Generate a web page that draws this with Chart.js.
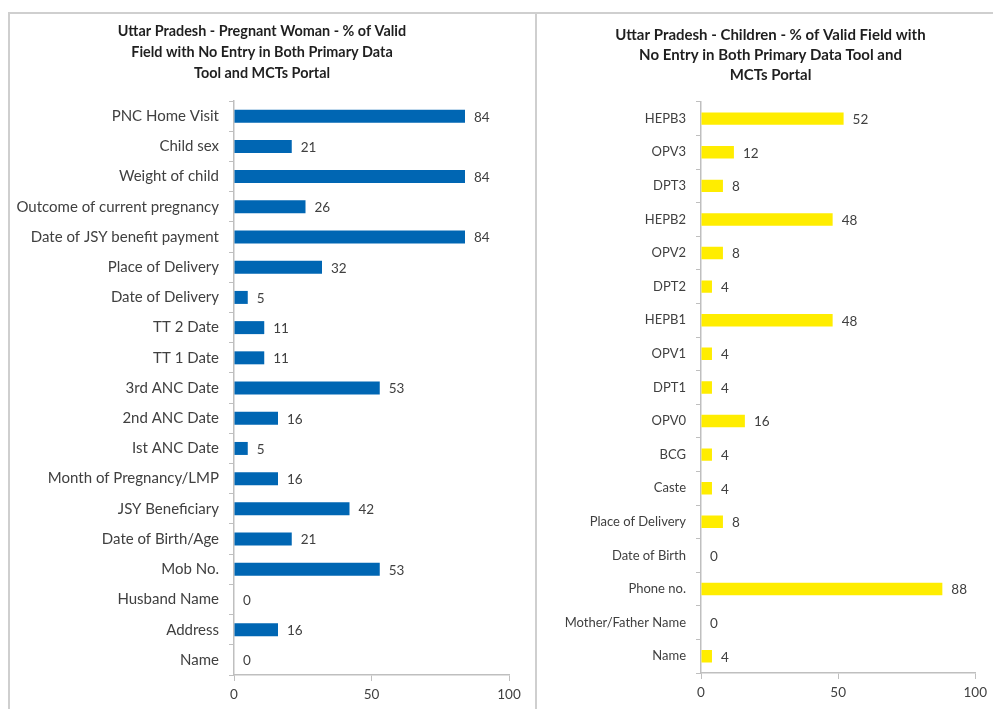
<!DOCTYPE html>
<html>
<head>
<meta charset="utf-8">
<script src="https://cdn.jsdelivr.net/npm/chart.js@4.4.1/dist/chart.umd.min.js"></script>
<style>
  html, body { margin: 0; padding: 0; background: #fff; }
  body { width: 993px; height: 709px; position: relative; overflow: hidden; }
  .frame {
    position: absolute; left: 8px; top: 12px; width: 1000px; height: 720px;
    border-left: 2px solid #cfcfcf; border-top: 2px solid #cfcfcf;
  }
  .divider {
    position: absolute; left: 535px; top: 12px; width: 2px; height: 720px;
    background: #cfcfcf;
  }
  .panel { position: absolute; top: 14px; }
  #womanPanel { left: 10px; width: 524px; height: 695px; }
  #childPanel { left: 538px; width: 455px; height: 695px; }
</style>
</head>
<body>
<div class="frame"></div>
<div class="divider"></div>
<div class="panel" id="womanPanel"><canvas id="womanChart"></canvas></div>
<div class="panel" id="childPanel"><canvas id="childChart"></canvas></div>

<script>
// pregnant woman fields, top to bottom
const womanFields = [
  "PNC Home Visit", "Child sex", "Weight of child", "Outcome of current pregnancy",
  "Date of JSY benefit payment", "Place of Delivery", "Date of Delivery", "TT 2 Date",
  "TT 1 Date", "3rd ANC Date", "2nd ANC Date", "Ist ANC Date", "Month of Pregnancy/LMP",
  "JSY Beneficiary", "Date of Birth/Age", "Mob No.", "Husband Name", "Address", "Name"
];
const womanValues = [84, 21, 84, 26, 84, 32, 5, 11, 11, 53, 16, 5, 16, 42, 21, 53, 0, 16, 0];

// children fields, top to bottom
const childFields = [
  "HEPB3", "OPV3", "DPT3", "HEPB2", "OPV2", "DPT2", "HEPB1", "OPV1", "DPT1", "OPV0",
  "BCG", "Caste", "Place of Delivery", "Date of Birth", "Phone no.", "Mother/Father Name", "Name"
];
const childValues = [52, 12, 8, 48, 8, 4, 48, 4, 4, 16, 4, 4, 8, 0, 88, 0, 4];

const xTicks = [0, 50, 100];

const womanTitle = [
  "Uttar Pradesh - Pregnant Woman - % of Valid",
  "Field with No Entry in Both Primary Data",
  "Tool and MCTs Portal"
];
const childTitle = [
  "Uttar Pradesh - Children - % of Valid Field with",
  "No Entry in Both Primary Data Tool and",
  "MCTs Portal"
];

const FONT = "Lato, 'Open Sans', sans-serif";
const TEXT = "#404040";
const AXIS = "#bfbfbf";

// writes each bar's value just past its end
const valueLabels = {
  id: "valueLabels",
  afterDatasetsDraw(chart) {
    const ctx = chart.ctx;
    const ds = chart.data.datasets[0];
    ctx.save();
    ctx.font = "13.5px " + FONT;
    ctx.fillStyle = TEXT;
    ctx.textAlign = "left";
    ctx.textBaseline = "middle";
    chart.getDatasetMeta(0).data.forEach((bar, i) => {
      ctx.fillText(String(ds.data[i]), bar.x + 9, bar.y + 1);
    });
    ctx.restore();
  }
};

function makeChart(id, fields, values, color, title, opt) {
  return new Chart(document.getElementById(id), {
    type: "bar",
    data: {
      labels: fields,
      datasets: [{
        data: values,
        backgroundColor: color,
        borderWidth: 0,
        barPercentage: opt.barPct,
        categoryPercentage: 1
      }]
    },
    plugins: [valueLabels],
    options: {
      indexAxis: "y",
      responsive: true,
      maintainAspectRatio: false,
      animation: false,
      layout: { padding: { left: opt.left, right: opt.right, top: 0, bottom: 0 } },
      plugins: {
        legend: { display: false },
        tooltip: { enabled: false },
        title: {
          display: true,
          text: title,
          color: "#1f1f1f",
          font: { family: FONT, size: opt.titleSize, weight: "bold", lineHeight: opt.titleLine },
          padding: { top: opt.titleTop, bottom: opt.titleBottom }
        }
      },
      scales: {
        x: {
          min: 0,
          max: 100,
          afterBuildTicks(scale) {
            scale.ticks = xTicks.map(v => ({ value: v }));
          },
          afterFit(scale) { scale.height = opt.xHeight; },
          grid: {
            drawOnChartArea: false,
            drawTicks: true,
            tickLength: 6,
            color: AXIS
          },
          border: { color: AXIS, width: 1.5 },
          ticks: { color: TEXT, font: { family: FONT, size: 13.5 }, padding: 6, maxRotation: 0 }
        },
        y: {
          afterFit(scale) { scale.width = opt.yWidth; },
          grid: {
            drawOnChartArea: false,
            drawTicks: true,
            tickLength: 5,
            color: AXIS
          },
          border: { color: AXIS, width: 1.5 },
          ticks: { color: TEXT, font: { family: FONT, size: opt.labelSize }, padding: 10, autoSkip: false }
        }
      }
    }
  });
}

makeChart("womanChart", womanFields, womanValues, "#0066b3", womanTitle, {
  barPct: 0.43, left: 5, right: 25, yWidth: 219, xHeight: 34, labelSize: 15,
  titleSize: 14.4, titleLine: 1.46, titleTop: 6.5, titleBottom: 17.5
});

makeChart("childChart", childFields, childValues, "#ffed00", childTitle, {
  barPct: 0.37, left: 27, right: 17, yWidth: 136, xHeight: 36, labelSize: 13,
  titleSize: 15, titleLine: 1.33, titleTop: 11, titleBottom: 17
});
</script>
</body>
</html>
